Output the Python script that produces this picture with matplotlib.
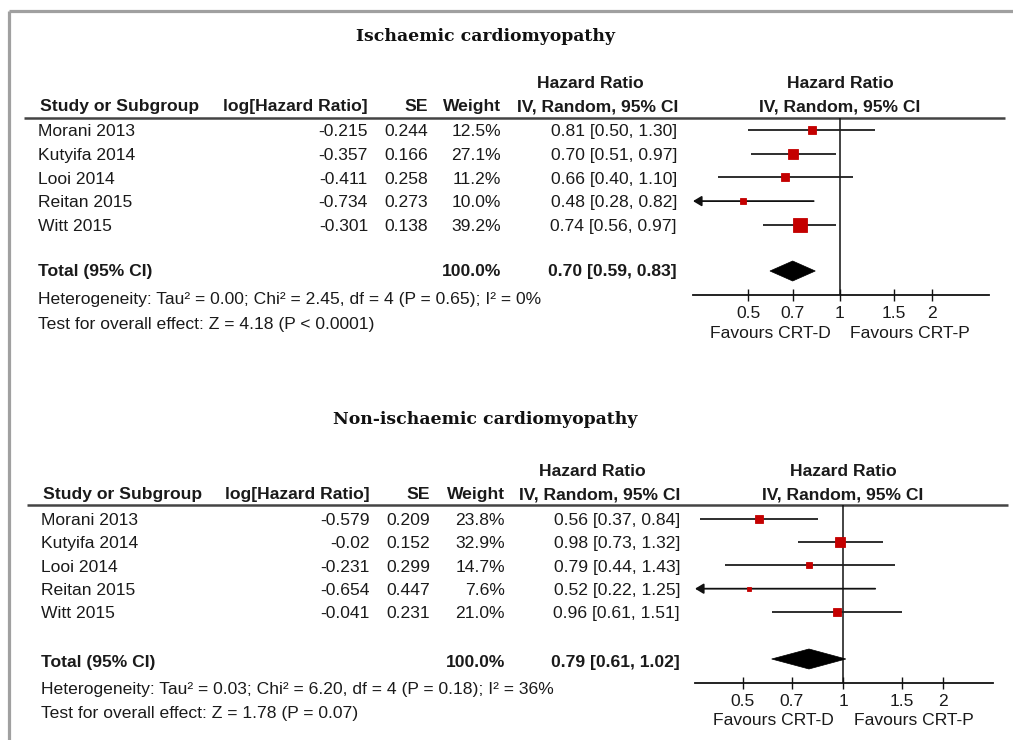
import numpy as np
import matplotlib
matplotlib.use("Agg")
import matplotlib.pyplot as plt
from matplotlib.patches import Polygon

plt.rcParams["font.family"] = ["Liberation Sans", "DejaVu Sans"]

W, H = 1013, 740

# ---------------- data ----------------
studies = ["Morani 2013", "Kutyifa 2014", "Looi 2014", "Reitan 2015", "Witt 2015"]

isch_title = "Ischaemic cardiomyopathy"
isch_loghr = [-0.215, -0.357, -0.411, -0.734, -0.301]
isch_se = [0.244, 0.166, 0.258, 0.273, 0.138]
isch_weight = [12.5, 27.1, 11.2, 10.0, 39.2]
isch_hr = [0.81, 0.70, 0.66, 0.48, 0.74]
isch_lo = [0.50, 0.51, 0.40, 0.28, 0.56]
isch_hi = [1.30, 0.97, 1.10, 0.82, 0.97]
isch_total = [0.70, 0.59, 0.83]
isch_het = "Heterogeneity: Tau² = 0.00; Chi² = 2.45, df = 4 (P = 0.65); I² = 0%"
isch_test = "Test for overall effect: Z = 4.18 (P < 0.0001)"

non_title = "Non-ischaemic cardiomyopathy"
non_loghr = [-0.579, -0.02, -0.231, -0.654, -0.041]
non_se = [0.209, 0.152, 0.299, 0.447, 0.231]
non_weight = [23.8, 32.9, 14.7, 7.6, 21.0]
non_hr = [0.56, 0.98, 0.79, 0.52, 0.96]
non_lo = [0.37, 0.73, 0.44, 0.22, 0.61]
non_hi = [0.84, 1.32, 1.43, 1.25, 1.51]
non_total = [0.79, 0.61, 1.02]
non_het = "Heterogeneity: Tau² = 0.03; Chi² = 6.20, df = 4 (P = 0.18); I² = 36%"
non_test = "Test for overall effect: Z = 1.78 (P = 0.07)"

tick_values = [0.5, 0.7, 1, 1.5, 2]
tick_labels = ["0.5", "0.7", "1", "1.5", "2"]
favours_left = "Favours CRT-D"
favours_right = "Favours CRT-P"

# ---------------- figure ----------------
fig = plt.figure(figsize=(W / 100, H / 100), dpi=100)
ov = fig.add_axes([0, 0, 1, 1])
ov.set_xlim(0, W)
ov.set_ylim(H, 0)
ov.axis("off")

TXT = "#1a1a1a"
FS = 12.6


def txt(x, yc, s, ha="left", bold=False, size=FS, color=TXT, family=None, cap=0.716):
    kw = {}
    if family:
        kw["family"] = family
    ov.text(x, yc + cap * size * 100 / 72 / 2, s, ha=ha, va="baseline",
            fontsize=size, fontweight="bold" if bold else "normal", color=color, **kw)


# frame border (gray)
ov.plot([8.5, 8.5], [H + 5, 10.5], color="#a0a0a0", lw=2.3, solid_capstyle="butt")
ov.plot([8.5, W + 5], [10.5, 10.5], color="#a0a0a0", lw=2.3, solid_capstyle="butt")


def panel(L, title, loghr, se, weight, hr, lo, hi, total, het, test):
    # title
    txt(L["title_c"], L["title_y"], title, ha="center", bold=True, size=12.4,
        family="DejaVu Serif", cap=0.73, color="#111111")
    # headers
    txt(L["ci_hdr_c"] - 8, L["hr_hdr_y"], "Hazard Ratio", ha="center", bold=True)
    txt(L["plot_c"], L["hr_hdr_y"], "Hazard Ratio", ha="center", bold=True)
    txt(L["name_x"], L["hdr_y"], "Study or Subgroup", bold=True)
    txt(L["log_r"], L["hdr_y"], "log[Hazard Ratio]", ha="right", bold=True)
    txt(L["se_r"], L["hdr_y"], "SE", ha="right", bold=True)
    txt(L["w_r"], L["hdr_y"], "Weight", ha="right", bold=True)
    txt(L["ci_hdr_c"], L["hdr_y"], "IV, Random, 95% CI", ha="center", bold=True)
    txt(L["plot_c"], L["hdr_y"], "IV, Random, 95% CI", ha="center", bold=True)
    ov.plot([L["rule_x0"], L["rule_x1"]], [L["rule_y"], L["rule_y"]], color="#444444", lw=1.8,
            solid_capstyle="butt")

    rows_y = [L["row0"] + i * L["pitch"] for i in range(len(studies))]
    for i, y in enumerate(rows_y):
        txt(L["name_x"] - 2, y, studies[i])
        txt(L["log_r"], y, f"{loghr[i]:g}", ha="right")
        txt(L["se_r"], y, f"{se[i]:g}", ha="right")
        txt(L["w_r"], y, f"{weight[i]:.1f}%", ha="right")
        txt(L["ci_r"], y, f"{hr[i]:.2f} [{lo[i]:.2f}, {hi[i]:.2f}]", ha="right")
    txt(L["name_x"] - 2, L["total_y"], "Total (95% CI)", bold=True)
    txt(L["w_r"], L["total_y"], "100.0%", ha="right", bold=True)
    txt(L["ci_r"], L["total_y"], f"{total[0]:.2f} [{total[1]:.2f}, {total[2]:.2f}]", ha="right", bold=True)
    txt(L["name_x"] - 2, L["het_y"], het)
    txt(L["name_x"] - 2, L["test_y"], test)

    # forest axes (y data = pixel rows)
    x0, x1, yt, yb = L["ax_x0"], L["ax_x1"], L["rule_y"], L["ax_y"]
    ax = fig.add_axes([x0 / W, 1 - yb / H, (x1 - x0) / W, (yb - yt) / H])
    ax.set_xscale("log")
    s = L["scale"]
    xmin = np.exp((x0 - L["plot_c"]) / s)
    xmax = np.exp((x1 - L["plot_c"]) / s)
    ax.set_xlim(xmin, xmax)
    ax.set_ylim(yb, yt)
    ax.patch.set_alpha(0)
    for sp in ["top", "left", "right"]:
        ax.spines[sp].set_visible(False)
    ax.spines["bottom"].set_linewidth(1.3)
    ax.spines["bottom"].set_color("#111111")
    ax.set_yticks([])
    ax.set_xticks(tick_values)
    ax.set_xticklabels(tick_labels)
    ax.minorticks_off()
    ax.tick_params(axis="x", direction="inout", length=9, width=1.0, color="#111111",
                   labelsize=FS, labelcolor=TXT, pad=3.5)
    ax.axvline(1, color="#111111", lw=1.1)

    for i, y in enumerate(rows_y):
        if lo[i] < xmin:
            ax.annotate("", xy=(xmin, y), xytext=(hi[i], y),
                        arrowprops=dict(arrowstyle="-|>,head_length=0.5,head_width=0.3",
                                        color="#111111", lw=1.3, shrinkA=0, shrinkB=0),
                        annotation_clip=False)
        else:
            ax.plot([lo[i], hi[i]], [y, y], color="#1e1e1e", lw=1.3, solid_capstyle="butt")
        side_px = L["k"] * np.sqrt(weight[i])
        ax.plot([hr[i]], [y], marker="s", ms=side_px * 0.72, color="#c40000",
                mec="#c40000", mew=0.6, zorder=5)

    ty = L["diam_y"]
    hh = 10
    ax.add_patch(Polygon([(total[1], ty), (total[0], ty - hh), (total[2], ty), (total[0], ty + hh)],
                         closed=True, facecolor="black", edgecolor="black", lw=0.5, zorder=5))

    txt(L["fav_l"], L["fav_y"], favours_left, ha="center")
    txt(L["fav_r"], L["fav_y"], favours_right, ha="center")


top = dict(title_c=486, title_y=35, hr_hdr_y=82, hdr_y=105, rule_y=117.5, rule_x0=24, rule_x1=1005,
           name_x=40, log_r=368, se_r=428, w_r=501, ci_r=677, ci_hdr_c=598,
           row0=130, pitch=23.7, total_y=270, diam_y=271, het_y=298, test_y=323,
           ax_x0=693, ax_x1=989, ax_y=295, plot_c=840, scale=132.7, k=2.1,
           fav_l=770, fav_r=910, fav_y=332)
bot = dict(title_c=485, title_y=418, hr_hdr_y=470, hdr_y=493, rule_y=505, rule_x0=27, rule_x1=1008,
           name_x=43, log_r=370, se_r=430, w_r=505, ci_r=680, ci_hdr_c=600,
           row0=518.5, pitch=23.4, total_y=661, diam_y=659, het_y=688, test_y=712,
           ax_x0=695, ax_x1=993, ax_y=683, plot_c=843, scale=144.3, k=1.8,
           fav_l=773, fav_r=914, fav_y=719)

panel(top, isch_title, isch_loghr, isch_se, isch_weight, isch_hr, isch_lo, isch_hi,
      isch_total, isch_het, isch_test)
panel(bot, non_title, non_loghr, non_se, non_weight, non_hr, non_lo, non_hi,
      non_total, non_het, non_test)

fig.savefig("out.png", dpi=100)
